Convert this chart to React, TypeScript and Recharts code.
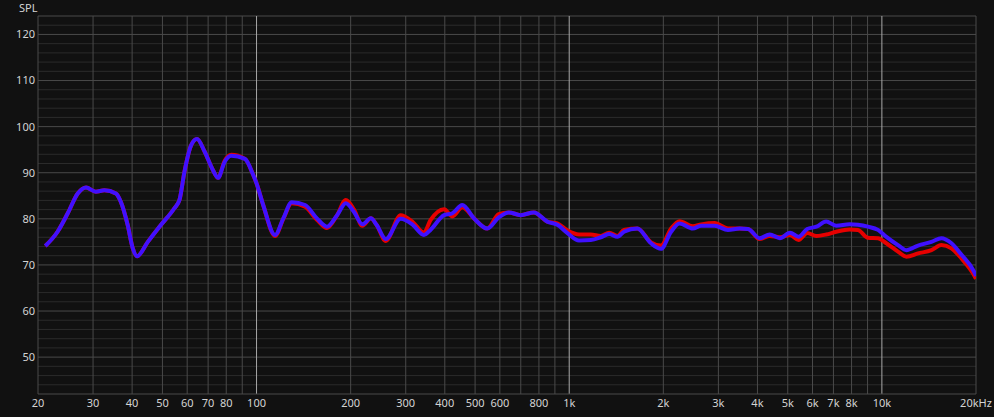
import { LineChart, Line, XAxis, YAxis, CartesianGrid } from 'recharts';

const freqs = [
  21.1, 23.1, 24.9, 26.8, 28.5, 30.6, 32.6, 35.5, 36.8, 38.7,
  40.2, 41.5, 44.9, 49.5, 54.6, 56.7, 58.8, 61.8, 64.5, 68.2,
  72.5, 75.3, 79.1, 83, 91.8, 97.6, 100, 105, 114.6, 121.8,
  129.6, 143, 156, 168, 181, 193, 205, 218, 232, 242,
  259, 289, 316, 343, 360, 398, 423, 455, 496, 547,
  595, 641, 699, 771, 851, 916, 987, 1075, 1172, 1262,
  1342, 1426, 1497, 1652, 1826, 1966, 2118, 2253, 2484, 2642,
  2916, 3220, 3506, 3732, 4064, 4378, 4718, 5083, 5414, 5770,
  6174, 6634, 7144, 7881, 8381, 9026, 9718, 10334, 11261, 11976,
  13054, 14404, 15504, 16692, 17970, 19826, 20000,
];

const redSpl = [
  74.1, 77.2, 81.2, 85.5, 86.8, 85.9, 86.2, 85.5, 83.7, 78.7,
  73.6, 71.9, 75.0, 78.7, 82.3, 84.1, 90.2, 96.0, 97.3, 94.6,
  90.6, 88.9, 92.6, 93.9, 93.0, 89.5, 87.7, 83.0, 76.3, 80.0,
  83.4, 82.6, 79.8, 78.0, 80.8, 84.1, 82.0, 78.5, 80.1, 78.7,
  75.2, 80.8, 79.3, 77.0, 79.7, 82.1, 80.5, 82.5, 80.1, 77.9,
  81.0, 81.4, 80.8, 81.4, 79.4, 79.0, 77.5, 76.6, 76.6, 76.3,
  77.0, 76.3, 77.6, 77.9, 74.9, 74.2, 77.9, 79.5, 78.4, 78.8,
  79.1, 77.9, 77.9, 77.8, 75.6, 76.3, 76.0, 76.5, 75.4, 76.9,
  76.3, 76.6, 77.2, 77.7, 77.6, 75.9, 75.8, 74.7, 72.9, 71.8,
  72.5, 73.2, 74.3, 73.6, 71.4, 67.5, 67.0,
];

const blueSpl = [
  74.1, 77.2, 81.2, 85.5, 86.8, 85.9, 86.2, 85.5, 83.7, 78.7,
  73.6, 71.9, 75.0, 78.7, 82.3, 84.1, 90.2, 96.0, 97.3, 94.6,
  90.6, 88.9, 92.4, 93.7, 93.0, 89.5, 87.7, 83.0, 76.5, 80.1,
  83.6, 83.0, 80.1, 78.3, 80.8, 83.4, 81.5, 78.8, 80.1, 78.7,
  75.6, 80.0, 78.7, 76.5, 77.6, 80.8, 81.2, 83.0, 80.1, 77.9,
  80.3, 81.4, 80.8, 81.4, 79.4, 78.7, 76.9, 75.3, 75.4, 76.0,
  76.7, 76.1, 77.2, 77.9, 74.7, 73.5, 77.2, 79.0, 77.9, 78.5,
  78.5, 77.6, 77.9, 77.8, 75.8, 76.6, 75.8, 77.0, 76.1, 77.8,
  78.3, 79.4, 78.5, 78.8, 78.7, 78.3, 77.6, 76.1, 74.3, 73.2,
  74.2, 75.0, 75.8, 74.7, 72.2, 68.2, 67.6,
];

const xTicks = [20, 30, 40, 50, 60, 70, 80, 100, 200, 300, 400, 500, 600, 800,
  1000, 2000, 3000, 4000, 5000, 6000, 7000, 8000, 10000, 20000];
const yTicks = [50, 60, 70, 80, 90, 100, 110, 120];

// grid lines
const minorY = [44, 46, 48, 52, 54, 56, 58, 62, 64, 66, 68, 72, 74, 76, 78, 82, 84, 86, 88,
  92, 94, 96, 98, 102, 104, 106, 108, 112, 114, 116, 118, 122];
const majorY = [50, 60, 70, 80, 90, 100, 110, 120, 124];
const gridX = [30, 40, 50, 60, 70, 80, 90, 200, 300, 400, 500, 600, 700, 800, 900,
  2000, 3000, 4000, 5000, 6000, 7000, 8000, 9000, 20000];
const decadeX = [100, 1000, 10000];

const data = freqs.map((f, i) => ({ f, red: redSpl[i], blue: blueSpl[i] }));

const fmtFreq = (v: number) => {
  if (v === 20000) return '20kHz';
  return v >= 1000 ? `${v / 1000}k` : `${v}`;
};

const tickStyle = { fontSize: 11, fill: '#d4d4d4', fontFamily: 'Noto Sans' };

export default function App() {
  return (
    <div style={{ position: 'fixed', left: 0, top: 0, width: 994, height: 417, background: '#111111' }}>
      <div style={{
        position: 'absolute', left: 19, top: 0, fontSize: 11, color: '#d4d4d4',
        fontFamily: 'Noto Sans', lineHeight: '16px',
      }}>SPL</div>
      <LineChart width={994} height={417} data={data} margin={{ top: 16, right: 18, left: 0, bottom: 0 }}>
        <CartesianGrid horizontal horizontalValues={minorY} vertical={false} stroke="#2b2b2b" strokeDasharray="" />
        <CartesianGrid horizontal horizontalValues={majorY} vertical verticalValues={gridX} stroke="#4a4a4a" strokeDasharray="" />
        <CartesianGrid horizontal={false} vertical verticalValues={decadeX} stroke="#a8a8a8" strokeDasharray="" />
        <XAxis
          dataKey="f"
          type="number"
          scale="log"
          domain={[20, 20000]}
          ticks={xTicks}
          interval={0}
          tickFormatter={fmtFreq}
          tick={tickStyle}
          tickLine={false}
          tickSize={3}
          tickMargin={2}
          height={23}
          axisLine={{ stroke: '#4a4a4a' }}
          allowDataOverflow
        />
        <YAxis
          type="number"
          domain={[42, 124]}
          ticks={yTicks}
          interval={0}
          tick={tickStyle}
          tickLine={false}
          tickSize={1}
          tickMargin={2}
          width={38}
          axisLine={{ stroke: '#4a4a4a' }}
          allowDataOverflow
        />
        <Line type="monotone" dataKey="red" stroke="#e60000" strokeWidth={4} dot={false} isAnimationActive={false} strokeLinejoin="round" />
        <Line type="monotone" dataKey="blue" stroke="#3f10ff" strokeWidth={4} dot={false} isAnimationActive={false} strokeLinejoin="round" />
      </LineChart>
    </div>
  );
}
